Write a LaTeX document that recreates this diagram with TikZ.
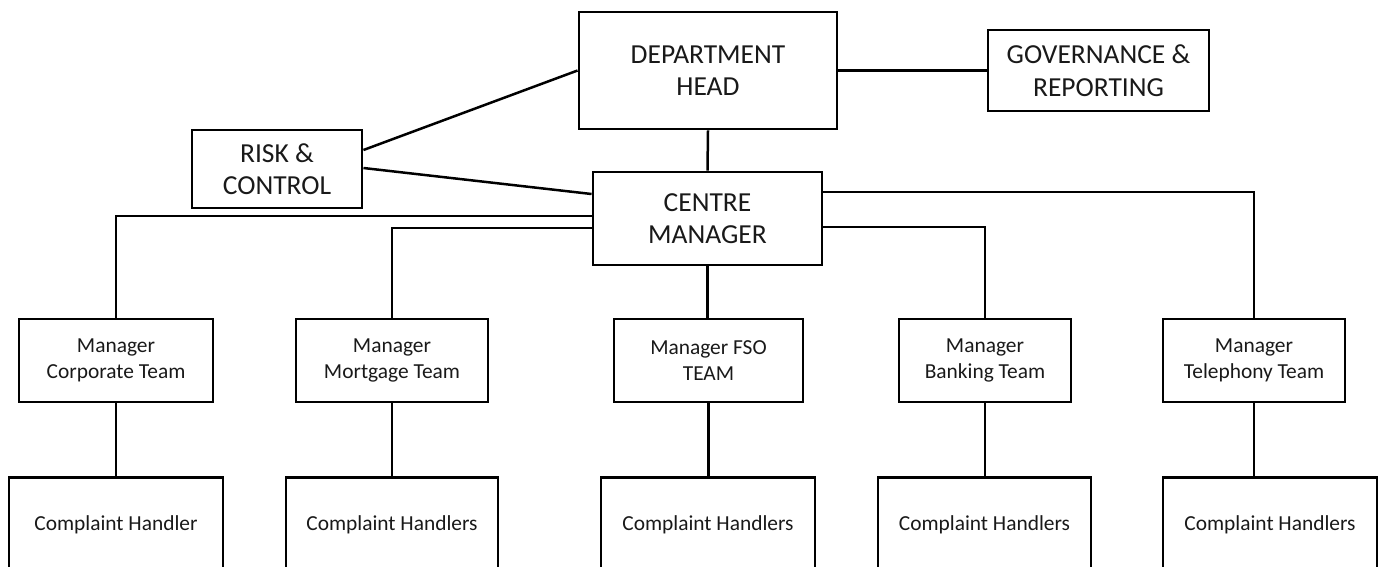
\documentclass[tikz,border=0pt]{standalone}
\usepackage{fontspec}
\setmainfont{Carlito}
\begin{document}
\begin{tikzpicture}[x=1pt,y=-1pt,
  box/.style={draw, line width=2.9pt, inner sep=0pt, align=center, text=black!90},
  big/.style={box, font=\fontsize{27.5}{32.5}\selectfont},
  small/.style={box, font=\fontsize{21.4}{26.5}\selectfont},
  handler/.style={small, anchor=north, minimum width=214, text height=53pt, text depth=80pt},
  conn/.style={line width=2.5pt}]
\useasboundingbox (0,0) rectangle (1386,566);
\clip (0,0) rectangle (1386,566);
% top level
\node[big, minimum width=258, minimum height=117] (dh) at (708,70.5) {DEPARTMENT\\HEAD};
\node[big, minimum width=221, minimum height=81] (gov) at (1098.5,70.5) {GOVERNANCE \&\\REPORTING};
\node[big, minimum width=170, minimum height=78] (rc) at (277,169) {RISK \&\\CONTROL};
\node[big, minimum width=229, minimum height=93] (cm) at (707.5,218.5) {CENTRE\\MANAGER};
% managers
\node[small, minimum width=194, minimum height=83] (m1) at (116,360.5) {Manager\\Corporate Team};
\node[small, minimum width=192, minimum height=83] (m2) at (392,360.5) {Manager\\Mortgage Team};
\node[small, minimum width=189, minimum height=83] (m3) at (708.5,360.5) {Manager FSO\\TEAM};
\node[small, minimum width=172, minimum height=83] (m4) at (985,360.5) {Manager\\Banking Team};
\node[small, minimum width=182, minimum height=83] (m5) at (1254,360.5) {Manager\\Telephony Team};
% handlers
\node[handler] (h1) at (116,476) {Complaint Handler};
\node[handler, minimum width=212] (h2) at (392,476) {Complaint Handlers};
\node[handler] (h3) at (708,476) {Complaint Handlers};
\node[handler, minimum width=213] (h4) at (984.5,476) {Complaint Handlers};
\node[handler] (h5) at (1270,476) {Complaint Handlers};
% connectors
\draw[conn] (dh.east) -- (gov.west);
\draw[conn] (dh.south) -- (cm.north);
\draw[conn] (dh.west) -- (rc.east |- 0,150);
\draw[conn] (rc.east |- 0,168) -- (cm.west |- 0,194);
\draw[conn] (cm.west |- 0,216) -| (m1.north);
\draw[conn] (cm.west |- 0,228) -| (m2.north);
\draw[conn] (cm.south) -- (cm.south |- m3.north);
\draw[conn] (cm.east |- 0,227) -| (m4.north);
\draw[conn] (cm.east |- 0,192) -| (m5.north);
\draw[conn] (m1.south) -- (m1.south |- h1.north);
\draw[conn] (m2.south) -- (m2.south |- h2.north);
\draw[conn] (m3.south) -- (m3.south |- h3.north);
\draw[conn] (m4.south) -- (m4.south |- h4.north);
\draw[conn] (m5.south) -- (m5.south |- h5.north);
\end{tikzpicture}
\end{document}
